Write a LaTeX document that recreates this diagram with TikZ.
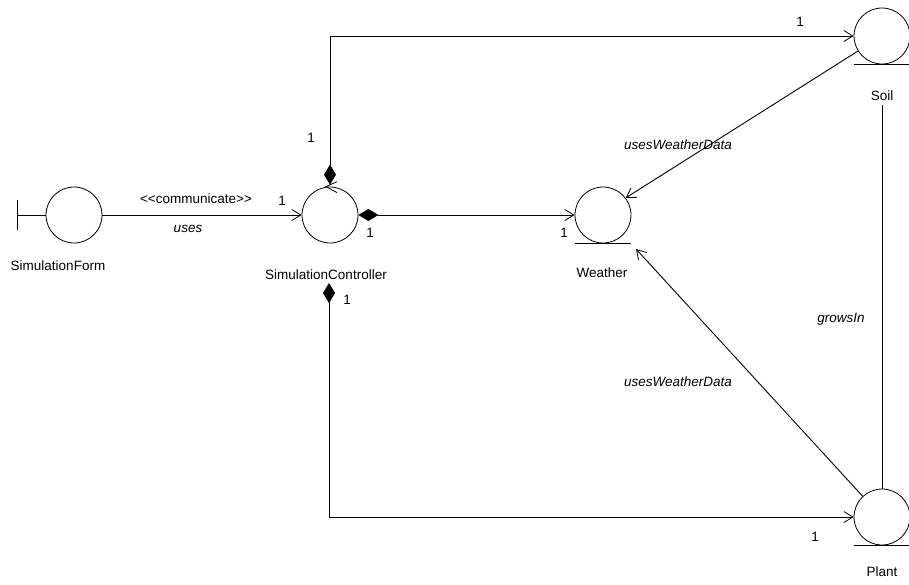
\documentclass[tikz,border=0pt]{standalone}
\usepackage{fontspec}
\setmainfont{Liberation Sans}
\usetikzlibrary{arrows.meta}
\begin{document}
\begin{tikzpicture}[x=1pt,y=-1pt,
  obj/.style={draw, circle, minimum size=56pt, inner sep=0pt, line width=0.8pt},
  lbl/.style={font=\fontsize{13.5}{16}\selectfont, inner sep=1pt},
  ilbl/.style={font=\fontsize{13.5}{16}\selectfont\itshape, inner sep=1pt},
  conn/.style={line width=0.9pt},
  barb/.tip={Straight Barb[length=9pt,width=11pt,line width=0.8pt]},
  nav/.style={conn, -barb},
  comp/.style={conn, {Diamond[length=20pt,width=12pt]}-barb}
]
\useasboundingbox (0,0) rectangle (909,584);

% objects
\node[obj] (f) at (74,215) {};
\node[obj] (c) at (330,215) {};
\node[obj] (w) at (603,215) {};
\node[obj] (s) at (882,36) {};
\node[obj] (p) at (882,517) {};

% boundary bar
\coordinate (fb) at (17,215);
\draw[conn] (f.west) -- (fb);
\draw[conn] ([shift={(0,-15)}]fb) -- ([shift={(0,15)}]fb);

% control arrow
\draw[line width=0.8pt] ([shift={(7,-5)}]c.north) -- ([shift={(-4,0)}]c.north) -- ([shift={(7,6)}]c.north);

% entity underlines
\draw[conn] (w.west |- w.south) -- (w.east |- w.south);
\draw[conn] (s.west |- s.south) -- (s.east |- s.south);
\draw[conn] (p.west |- p.south) -- (p.east |- p.south);

% labels
\node[lbl] (fl) at (58,266) {SimulationForm};
\node[lbl] (cl) at (326,275) {SimulationController};
\node[lbl] (wl) at (602,273) {Weather};
\node[lbl] (sl) at (882,96) {Soil};
\node[lbl] (pl) at (882,572) {Plant};

% connectors
\draw[nav] (f.east) -- (c.west);
\draw[comp] ([shift={(0,-2)}]c.north) |- (s.west);
\draw[comp] (c.east) -- (w.west);
\coordinate (cb) at (329,283);
\draw[comp] (cb) |- (p.west);
\draw[nav] (s.212) -- (w.37);
\coordinate (wp) at (636,249);
\draw[nav] (p.133) -- (wp);
\draw[conn] ([shift={(0,3)}]sl.south) -- (sl.south |- p.north);

% connector labels
\node[lbl] at (196,199) {<{}<communicate>{}>};
\node[ilbl] at (188,229) {uses};
\node[ilbl] at (678,145) {usesWeatherData};
\node[ilbl] at (678,382) {usesWeatherData};
\node[ilbl] at (841,319) {growsIn};

% multiplicities
\node[lbl] at (282,201) {1};
\node[lbl] at (311,138) {1};
\node[lbl] at (800,22) {1};
\node[lbl] at (370,233) {1};
\node[lbl] at (564,233) {1};
\node[lbl] at (347,300) {1};
\node[lbl] at (815,537) {1};
\end{tikzpicture}
\end{document}
